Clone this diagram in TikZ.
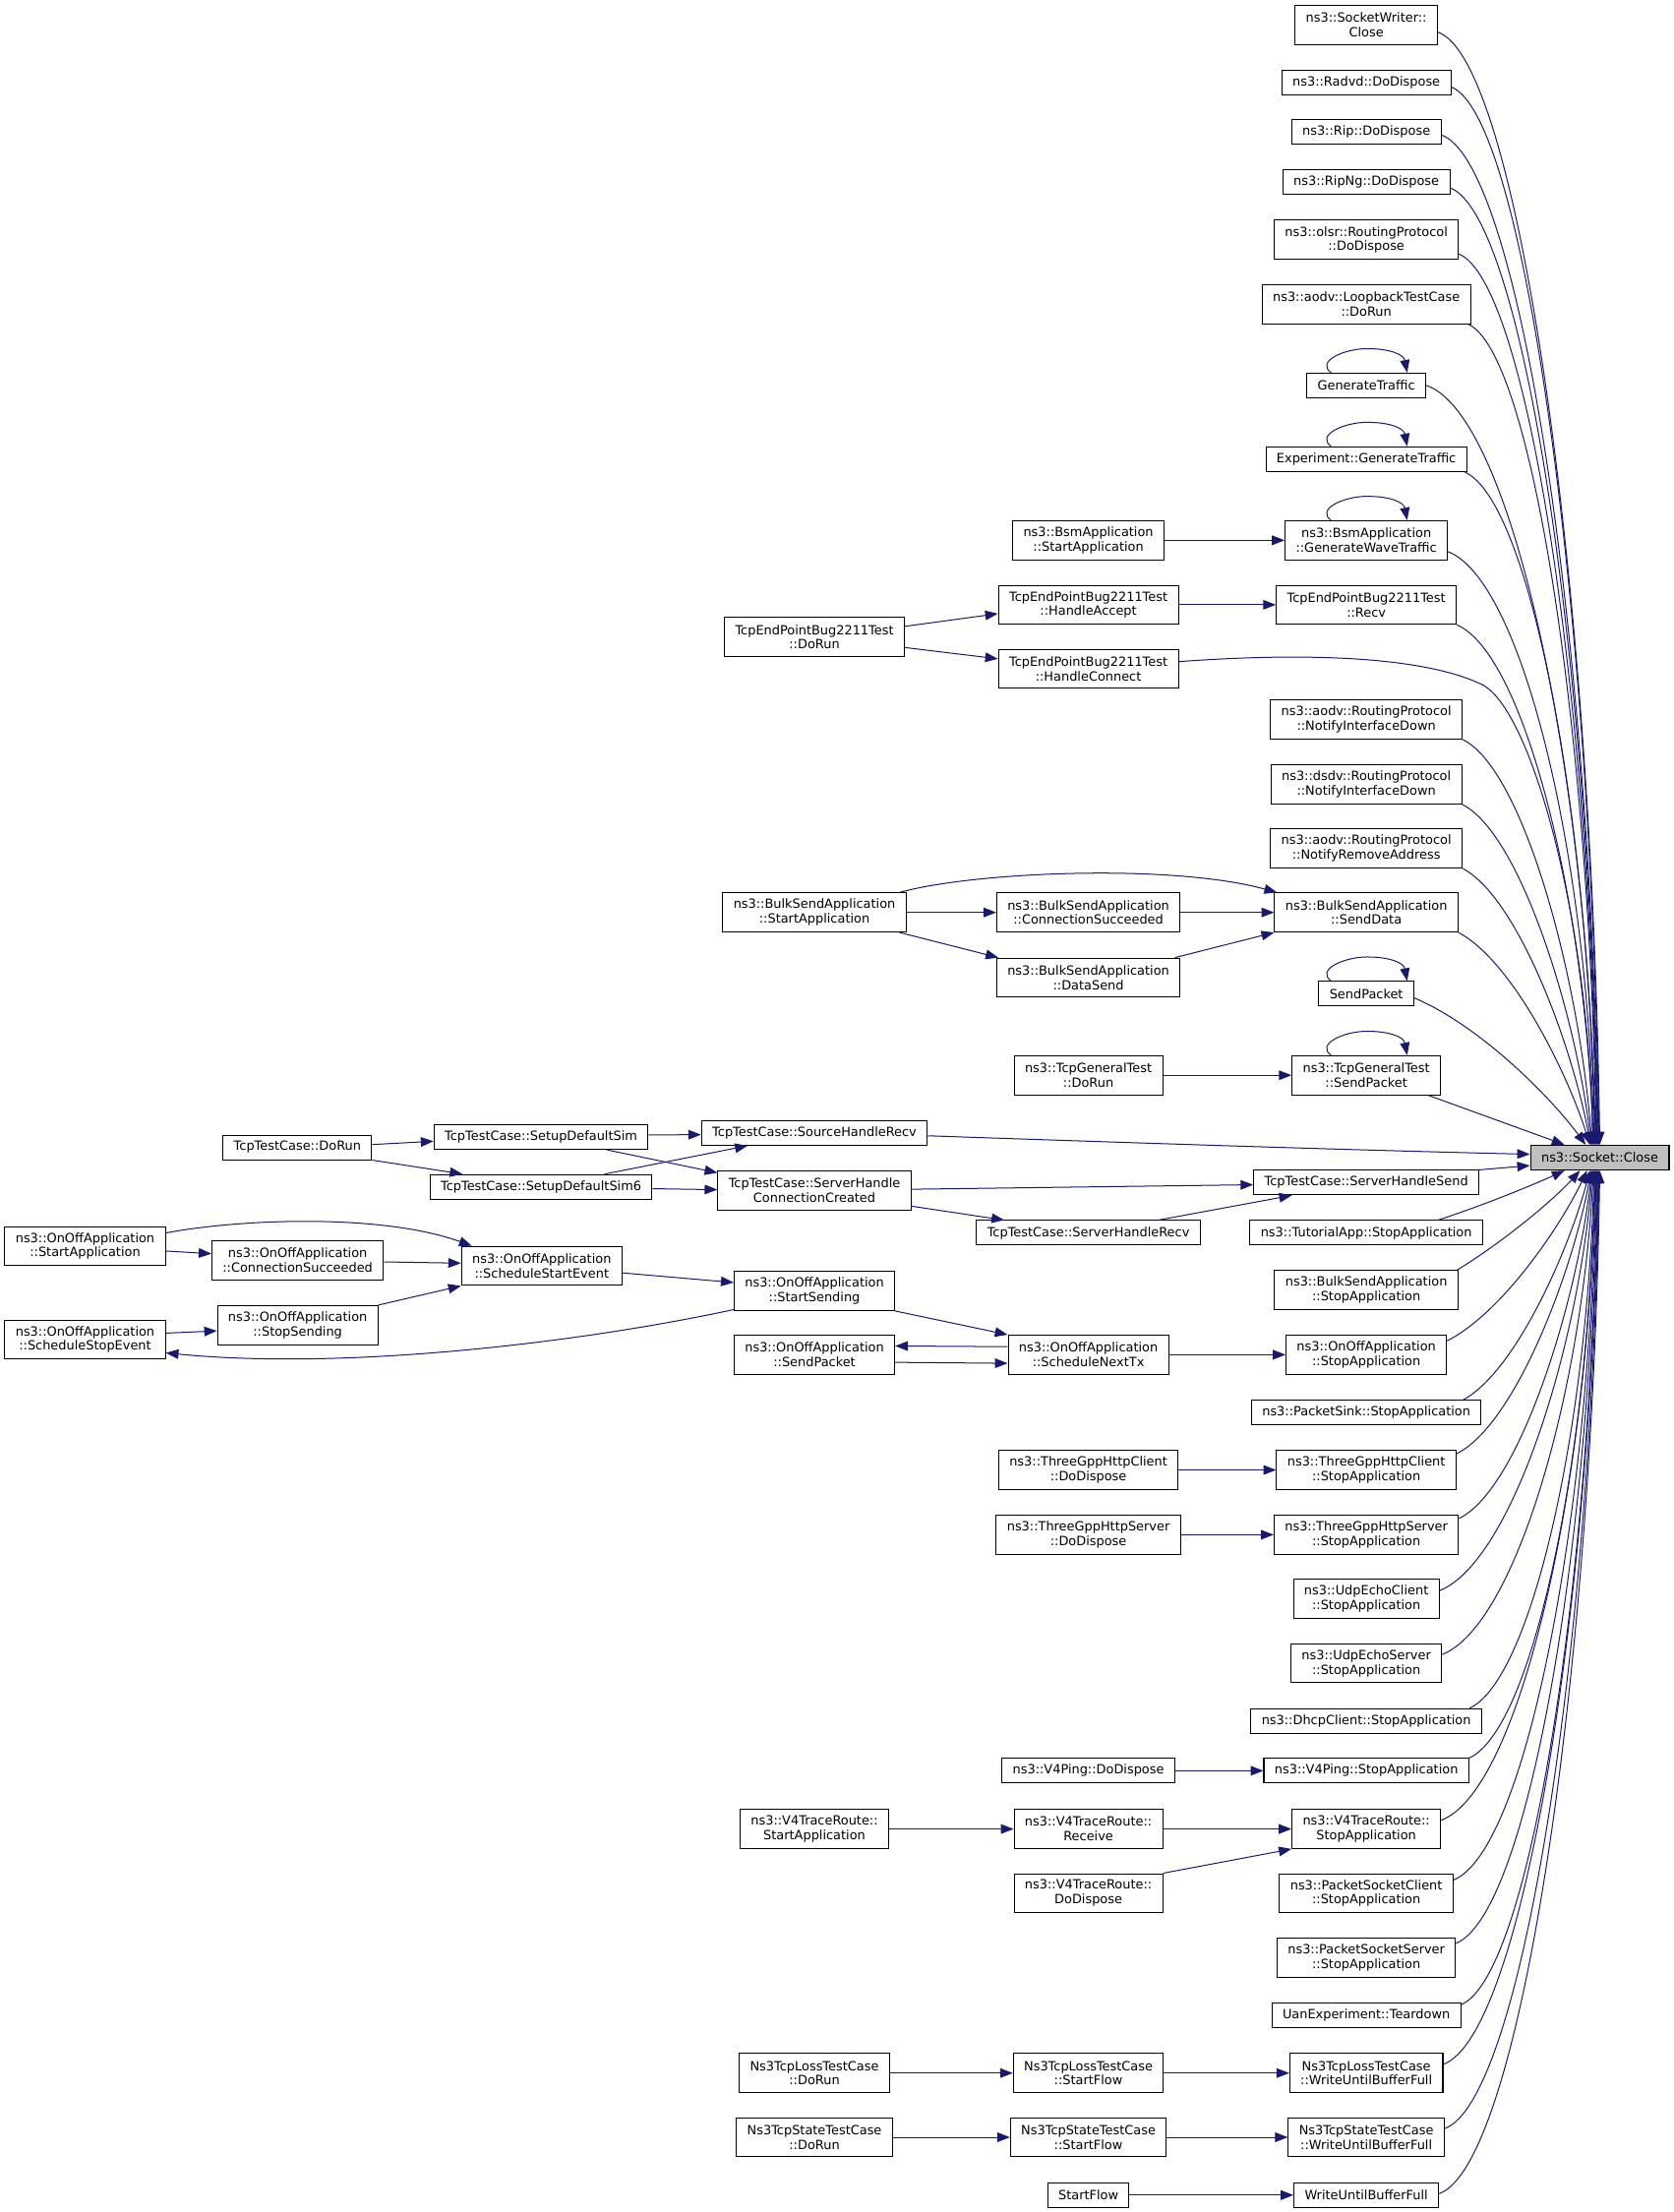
\documentclass[tikz,border=0pt]{standalone}
\usepackage{fontspec}
\setmainfont{DejaVu Sans}
\usetikzlibrary{arrows.meta,calc}
\definecolor{navyc}{HTML}{191970}
\definecolor{rootfill}{HTML}{BFBFBF}
\tikzset{
  box/.style={draw=black, fill=white, line width=0.7pt, font=\fontsize{9pt}{10.3pt}\selectfont,
    inner xsep=7.6pt, inner ysep=0pt, minimum height=17.4pt, align=center},
  box2/.style={box, minimum height=27.7pt},
  rootbox/.style={box, fill=rootfill, line width=0.9pt},
  cedge/.style={draw=navyc, line width=0.7pt, -{Triangle[length=9pt,width=6.8pt]}}
}
\newcommand\tosock[2]{%
  \draw[cedge] let \p1=(#1), \p2=(#2),
    \n1={\x2-\x1}, \n2={\y2-\y1}, \n3={min(1,abs(\n2)/400)}
  in (\p1) .. controls ({\x1+\n1*(0.35+0.15*\n3)},{\y1+max(-20,min(20,0.3*\n2))})
      and ({\x2-\n1*(0.25-0.2*\n3)},{\y2-\n2*(0.25+0.25*\n3)}) .. (\p2);}
\newcommand\selfloop[1]{%
  \draw[cedge] ($(#1.north)+(-25,0)$) .. controls +(-11,-8) and +(-16,0) .. ($(#1.north)+(0.5,-17)$)
     .. controls +(16,0) and +(-2.5,-13) .. ($(#1.north)+(29,0)$);}
\begin{document}
\begin{tikzpicture}[x=1pt,y=-1pt]
\fill[white] (0,0) rectangle (1186,1568);
\useasboundingbox (0,0) rectangle (1186,1568);

% root
\node[rootbox] (close) at (1134,820.6) {ns3::Socket::Close};

% right column
\node[box2] (sw) at (968.5,17.8) {ns3::SocketWriter::\\Close};
\node[box] (radvd) at (968.5,58.7) {ns3::Radvd::DoDispose};
\node[box] (rip) at (968.5,93.7) {ns3::Rip::DoDispose};
\node[box] (ripng) at (968.5,129.2) {ns3::RipNg::DoDispose};
\node[box2] (olsr) at (968.5,170) {ns3::olsr::RoutingProtocol\\::DoDispose};
\node[box2] (loop) at (968.5,215.6) {ns3::aodv::LoopbackTestCase\\::DoRun};
\node[box] (gt) at (968.5,273.2) {GenerateTraffic};
\node[box] (egt) at (968.5,325.4) {Experiment::GenerateTraffic};
\node[box2] (bsmg) at (968.5,383) {ns3::BsmApplication\\::GenerateWaveTraffic};
\node[box2] (recv) at (968.5,428.7) {TcpEndPointBug2211Test\\::Recv};
\node[box2] (aodvnid) at (968.5,510) {ns3::aodv::RoutingProtocol\\::NotifyInterfaceDown};
\node[box2] (dsdv) at (968.5,556) {ns3::dsdv::RoutingProtocol\\::NotifyInterfaceDown};
\node[box2] (aodvnra) at (968.5,601.4) {ns3::aodv::RoutingProtocol\\::NotifyRemoveAddress};
\node[box2] (bsd) at (968.5,646.8) {ns3::BulkSendApplication\\::SendData};
\node[box] (sp) at (968.5,704.4) {SendPacket};
\node[box2] (tgsp) at (968.5,762.2) {ns3::TcpGeneralTest\\::SendPacket};
\node[box] (shs) at (968.5,838.3) {TcpTestCase::ServerHandleSend};
\node[box] (tut) at (968.5,873.9) {ns3::TutorialApp::StopApplication};
\node[box2] (bss) at (968.5,914.5) {ns3::BulkSendApplication\\::StopApplication};
\node[box2] (oos) at (968.5,960.3) {ns3::OnOffApplication\\::StopApplication};
\node[box] (ps) at (968.5,1001.3) {ns3::PacketSink::StopApplication};
\node[box2] (hcs) at (968.5,1042) {ns3::ThreeGppHttpClient\\::StopApplication};
\node[box2] (hss) at (968.5,1087.9) {ns3::ThreeGppHttpServer\\::StopApplication};
\node[box2] (uec) at (968.5,1133.4) {ns3::UdpEchoClient\\::StopApplication};
\node[box2] (ues) at (968.5,1179) {ns3::UdpEchoServer\\::StopApplication};
\node[box] (dhcp) at (968.5,1220) {ns3::DhcpClient::StopApplication};
\node[box] (v4p) at (968.5,1255.2) {ns3::V4Ping::StopApplication};
\node[box2] (v4t) at (968.5,1296.5) {ns3::V4TraceRoute::\\StopApplication};
\node[box2] (psc) at (968.5,1342) {ns3::PacketSocketClient\\::StopApplication};
\node[box2] (pss) at (968.5,1387.7) {ns3::PacketSocketServer\\::StopApplication};
\node[box] (uan) at (968.5,1428.3) {UanExperiment::Teardown};
\node[box2] (lw) at (968.5,1469.5) {Ns3TcpLossTestCase\\::WriteUntilBufferFull};
\node[box2] (stw) at (968.5,1515) {Ns3TcpStateTestCase\\::WriteUntilBufferFull};
\node[box] (wubf) at (968.5,1556) {WriteUntilBufferFull};

% middle column
\node[box2] (bsmsa) at (771.5,383) {ns3::BsmApplication\\::StartApplication};
\node[box2] (ha) at (771.5,428.7) {TcpEndPointBug2211Test\\::HandleAccept};
\node[box2] (hc) at (771.5,474) {TcpEndPointBug2211Test\\::HandleConnect};
\node[box2] (bcs) at (771.5,646.8) {ns3::BulkSendApplication\\::ConnectionSucceeded};
\node[box2] (bds) at (771.5,693) {ns3::BulkSendApplication\\::DataSend};
\node[box2] (tgdr) at (771.5,762.2) {ns3::TcpGeneralTest\\::DoRun};
\node[box] (shrv) at (771.5,873.9) {TcpTestCase::ServerHandleRecv};
\node[box2] (snt) at (771.5,960.3) {ns3::OnOffApplication\\::ScheduleNextTx};
\node[box2] (hcd) at (771.5,1042) {ns3::ThreeGppHttpClient\\::DoDispose};
\node[box2] (hsd) at (771.5,1087.9) {ns3::ThreeGppHttpServer\\::DoDispose};
\node[box] (v4pd) at (771.5,1255.2) {ns3::V4Ping::DoDispose};
\node[box2] (v4tr) at (771.5,1296.5) {ns3::V4TraceRoute::\\Receive};
\node[box2] (v4td) at (771.5,1342) {ns3::V4TraceRoute::\\DoDispose};
\node[box2] (lsf) at (771.5,1469.5) {Ns3TcpLossTestCase\\::StartFlow};
\node[box2] (ssf) at (771.5,1515) {Ns3TcpStateTestCase\\::StartFlow};
\node[box] (sf) at (771.5,1556) {StartFlow};

% left-middle column
\node[box2] (tedr) at (577.3,451.5) {TcpEndPointBug2211Test\\::DoRun};
\node[box2] (bsa) at (577.3,646.8) {ns3::BulkSendApplication\\::StartApplication};
\node[box] (shr) at (577.3,803.1) {TcpTestCase::SourceHandleRecv};
\node[box2] (shcc) at (577.3,844) {TcpTestCase::ServerHandle\\ConnectionCreated};
\node[box2] (ss) at (577.3,915.1) {ns3::OnOffApplication\\::StartSending};
\node[box2] (osp) at (577.3,960.3) {ns3::OnOffApplication\\::SendPacket};
\node[box2] (v4tsa) at (577.3,1296.5) {ns3::V4TraceRoute::\\StartApplication};
\node[box2] (ldr) at (577.3,1469.5) {Ns3TcpLossTestCase\\::DoRun};
\node[box2] (sdr) at (577.3,1515) {Ns3TcpStateTestCase\\::DoRun};

% further left
\node[box] (sim) at (383.5,806) {TcpTestCase::SetupDefaultSim};
\node[box] (sim6) at (383.5,841.3) {TcpTestCase::SetupDefaultSim6};
\node[box2] (sse) at (384,897.3) {ns3::OnOffApplication\\::ScheduleStartEvent};
\node[box] (tdr) at (210.8,813.3) {TcpTestCase::DoRun};
\node[box2] (ocs) at (211,893.3) {ns3::OnOffApplication\\::ConnectionSucceeded};
\node[box2] (ostop) at (211,939.3) {ns3::OnOffApplication\\::StopSending};
\node[box2] (osa) at (60.3,883.3) {ns3::OnOffApplication\\::StartApplication};
\node[box2] (osse) at (60.3,949.5) {ns3::OnOffApplication\\::ScheduleStopEvent};

% self loops
\selfloop{gt}
\selfloop{egt}
\selfloop{bsmg}
\selfloop{sp}
\selfloop{tgsp}

% edges into ns3::Socket::Close (from above)
\tosock{$(sw.east)+(0,5)$}{$(close.north)+(0,0)$}
\tosock{$(radvd.east)+(0,3)$}{$(close.north)+(-0.5,0)$}
\tosock{$(rip.east)+(0,2)$}{$(close.north)+(-1,0)$}
\tosock{$(ripng.east)+(0,4)$}{$(close.north)+(-1.5,0)$}
\tosock{$(olsr.east)+(0,10)$}{$(close.north)+(-2,0)$}
\tosock{$(loop.south east)+(-2,0)$}{$(close.north)+(-2.5,0)$}
\tosock{gt.east}{$(close.north)+(-3,0)$}
\tosock{$(egt.south east)+(-2,0)$}{$(close.north)+(-3.5,0)$}
\tosock{$(bsmg.east)+(0,8)$}{$(close.north)+(-4,0)$}
\tosock{recv.south east}{$(close.north)+(-4.5,0)$}
\draw[cedge] ($(hc.east)+(0,-5)$) .. controls (930,462) and (1010,466) .. (1050,485)
   .. controls (1085,501) and (1126,650) .. ($(close.north)+(-5,0)$);
\tosock{aodvnid.south east}{$(close.north)+(-5.5,0)$}
\tosock{dsdv.south east}{$(close.north)+(-6,0)$}
\tosock{aodvnra.south east}{$(close.north)+(-6.5,0)$}
\tosock{bsd.south east}{$(close.north)+(-7,0)$}
\tosock{$(sp.east)+(0,3)$}{$(close.north)+(-10,0)$}
\draw[cedge] ($(tgsp.south east)+(-9,0)$) -- ($(close.north)+(-25,0)$);
\draw[cedge] ($(shr.east)+(0,2)$) .. controls (800,810) and (950,815) .. ($(close.west)+(0,-2.4)$);
\draw[cedge] (shs.north east) -- ($(close.west)+(0,5.6)$);

% edges into ns3::Socket::Close (from below)
\tosock{$(tut.north east)+(-32,0)$}{$(close.south)+(-25,0)$}
\tosock{$(bss.north east)+(-1,0)$}{$(close.south)+(-14,0)$}
\tosock{$(oos.east)+(0,-9.8)$}{$(close.south)+(-9,0)$}
\tosock{$(ps.north east)+(-13,0)$}{$(close.south)+(-7,0)$}
\tosock{$(hcs.north east)+(0,2.7)$}{$(close.south)+(-6,0)$}
\tosock{$(hss.north east)+(0,2.7)$}{$(close.south)+(-5.5,0)$}
\tosock{$(uec.north east)+(0,8.3)$}{$(close.south)+(-5,0)$}
\tosock{$(ues.north east)+(0,8)$}{$(close.south)+(-4.5,0)$}
\tosock{$(dhcp.north east)+(-9,0)$}{$(close.south)+(-4,0)$}
\tosock{v4p.north east}{$(close.south)+(-3.5,0)$}
\tosock{$(v4t.north east)+(0,8)$}{$(close.south)+(-3,0)$}
\tosock{$(psc.north east)+(0,4.8)$}{$(close.south)+(-2.5,0)$}
\tosock{$(pss.north east)+(0,4)$}{$(close.south)+(-2,0)$}
\tosock{$(uan.north east)+(0,1.7)$}{$(close.south)+(-1.5,0)$}
\tosock{$(lw.north east)+(0,8)$}{$(close.south)+(-1,0)$}
\tosock{$(stw.north east)+(0,8)$}{$(close.south)+(-0.5,0)$}
\tosock{$(wubf.east)+(0,-1)$}{$(close.south)+(0,0)$}

% middle edges
\draw[cedge] (bsmsa) -- (bsmg);
\draw[cedge] (ha) -- (recv);
\draw[cedge] ($(tedr.east)+(0,-7.5)$) -- ($(ha.west)+(0,6.3)$);
\draw[cedge] ($(tedr.east)+(0,7.5)$) -- ($(hc.west)+(0,-7)$);
\draw[cedge] ($(bsa.north east)+(-5,0)$) .. controls (690,618) and (830,612) .. ($(bsd.north west)+(2,0)$);
\draw[cedge] (bsa) -- (bcs);
\draw[cedge] (bcs) -- (bsd);
\draw[cedge] ($(bsa.south east)+(-5,0)$) -- ($(bds.north west)+(1.5,0)$);
\draw[cedge] ($(bds.north east)+(-4,0)$) -- (bsd.south west);
\draw[cedge] (tgdr) -- (tgsp);

% TcpTestCase
\draw[cedge] ($(tdr.east)+(0,-2)$) -- ($(sim.west)+(0,3)$);
\draw[cedge] (tdr.south east) -- ($(sim6.north west)+(23.4,0)$);
\draw[cedge] ($(sim.east)+(0,-1.5)$) -- ($(shr.west)+(0,1.2)$);
\draw[cedge] ($(sim.south east)+(-29.7,0)$) -- ($(shcc.north west)+(0,1.5)$);
\draw[cedge] ($(sim6.north east)+(-34,0)$) -- ($(shr.south west)+(33,0)$);
\draw[cedge] ($(sim6.east)+(0,1.3)$) -- ($(shcc.west)+(0,-0.7)$);
\draw[cedge] ($(shcc.east)+(0,-1)$) -- ($(shs.west)+(0,1.5)$);
\draw[cedge] ($(shcc.east)+(0,11)$) -- ($(shrv.north west)+(20,0)$);
\draw[cedge] ($(shrv.north east)+(-30,0)$) -- ($(shs.south west)+(27.4,0)$);

% OnOff
\draw[cedge] ($(osa.east)+(0,-9.3)$) .. controls (170,864) and (270,860) .. ($(sse.north west)+(7.7,0)$);
\draw[cedge] ($(osa.east)+(0,3.5)$) -- ($(ocs.west)+(0,-4.6)$);
\draw[cedge] ($(ocs.east)+(0,1.2)$) -- ($(sse.west)+(0,-1.9)$);
\draw[cedge] (ostop.north east) -- (sse.south west);
\draw[cedge] ($(osse.east)+(0,-4.5)$) -- ($(ostop.west)+(0,4.1)$);
\draw[cedge] ($(sse.east)+(0,5)$) -- ($(ss.west)+(0,-6)$);
\draw[cedge] ($(ss.west)+(0,13.2)$) .. controls (420,950) and (250,972) .. ($(osse.east)+(0,9.5)$);
\draw[cedge] (ss.south east) -- (snt.north west);
\draw[cedge] ($(snt.west)+(0,-5.7)$) -- ($(osp.east)+(0,-6.2)$);
\draw[cedge] ($(osp.east)+(0,5.4)$) -- ($(snt.west)+(0,6.1)$);
\draw[cedge] (snt) -- (oos);

% lower middle
\draw[cedge] (hcd) -- (hcs);
\draw[cedge] (hsd) -- (hss);
\draw[cedge] (v4pd) -- (v4p);
\draw[cedge] (v4tsa) -- (v4tr);
\draw[cedge] (v4tr) -- (v4t);
\draw[cedge] (v4td.north east) -- (v4t.south west);
\draw[cedge] (ldr) -- (lsf);
\draw[cedge] (lsf) -- (lw);
\draw[cedge] (sdr) -- (ssf);
\draw[cedge] (ssf) -- (stw);
\draw[cedge] (sf) -- (wubf);
\end{tikzpicture}
\end{document}
